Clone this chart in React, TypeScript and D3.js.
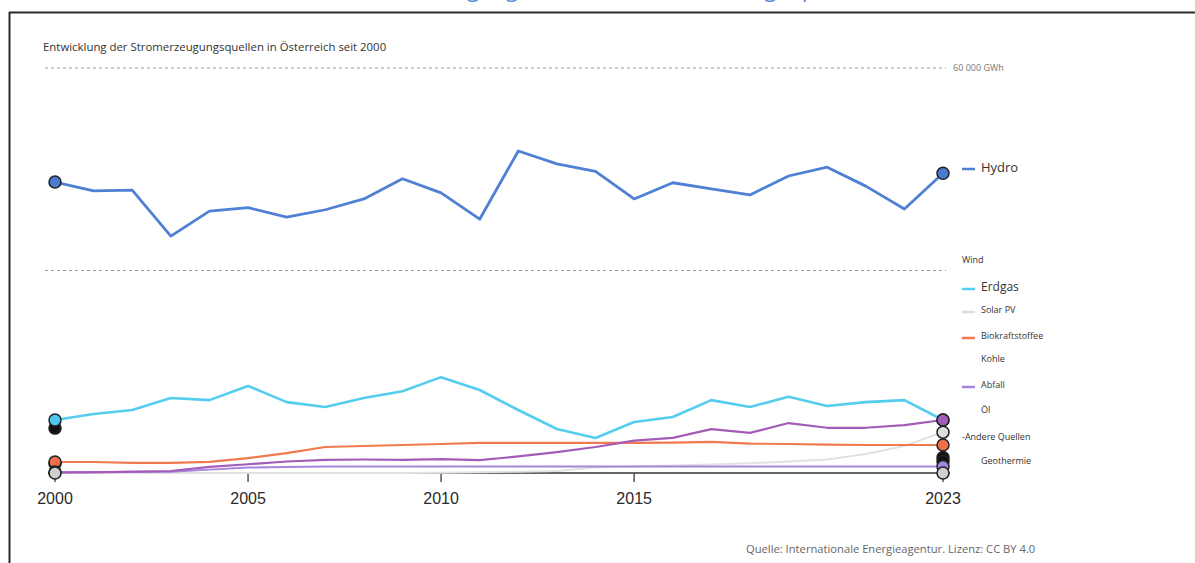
import React from "react";
import * as d3 from "d3";

const years = [2000, 2001, 2002, 2003, 2004, 2005, 2006, 2007, 2008, 2009, 2010, 2011, 2012, 2013, 2014, 2015, 2016, 2017, 2018, 2019, 2020, 2021, 2022, 2023];
const hydro = [43100, 41800, 41900, 35100, 38800, 39300, 37900, 39000, 40600, 43600, 41500, 37600, 47700, 45800, 44700, 40600, 43000, 42100, 41200, 44000, 45300, 42500, 39100, 44400];
const erdgas = [7850, 8740, 9330, 11100, 10800, 12900, 10500, 9780, 11100, 12100, 14200, 12300, 9330, 6520, 5190, 7560, 8300, 10800, 9780, 11300, 9930, 10500, 10800, 7850];
const wind = [70, 100, 200, 300, 900, 1300, 1700, 1950, 2000, 1950, 2050, 1900, 2450, 3100, 3850, 4800, 5200, 6500, 5950, 7400, 6700, 6700, 7100, 7850];
const bio = [1630, 1630, 1500, 1500, 1650, 2200, 2950, 3850, 4000, 4150, 4300, 4450, 4450, 4450, 4450, 4450, 4500, 4600, 4350, 4300, 4200, 4150, 4150, 4150];
const abfall = [150, 150, 150, 200, 500, 800, 900, 950, 950, 950, 950, 950, 950, 960, 960, 960, 960, 960, 960, 960, 960, 960, 960, 960];
const solar = [0, 0, 0, 0, 0, 0, 0, 0, 0, 10, 40, 100, 200, 300, 800, 950, 1100, 1250, 1450, 1700, 2000, 2800, 4000, 6050];
const kohleEnds = [6650, 1700];
const oelEnds = [1400, 2300];
const andereEnds = [0, 0];

const gridValues = [30000, 60000];
const tickYears = [2000, 2005, 2010, 2015, 2023];

const legendItems = [
  { label: "Hydro", color: "#4f80d3", size: 13, y: 167, swatch: true, x: 981 },
  { label: "Wind", color: null, size: 9, y: 260, swatch: false, x: 962 },
  { label: "Erdgas", color: "#55cdef", size: 12, y: 287, swatch: true, x: 981 },
  { label: "Solar PV", color: "#dcdcdc", size: 9, y: 310, swatch: true, x: 981 },
  { label: "Biokraftstoffee", color: "#ef7a50", size: 9, y: 336, swatch: true, x: 981 },
  { label: "Kohle", color: null, size: 9, y: 359, swatch: false, x: 981 },
  { label: "Abfall", color: "#a784dc", size: 9, y: 385, swatch: true, x: 981 },
  { label: "Öl", color: null, size: 9, y: 410, swatch: false, x: 981 },
  { label: "-Andere Quellen", color: null, size: 9, y: 437, swatch: false, x: 962 },
  { label: "Geothermie", color: null, size: 9, y: 461, swatch: false, x: 981 },
];

export default function App() {
  const W = 1195, H = 563;
  const x = d3.scaleLinear().domain([2000, 2023]).range([55, 943]);
  const y = d3.scaleLinear().domain([0, 60000]).range([473, 68]);
  const line = (vals: number[]) =>
    d3.line<number>().x((_, i) => x(years[i])).y((d) => y(d))(vals) || "";

  const series = [
    { vals: solar, color: "#e2e2e2", w: 2 },
    { vals: abfall, color: "#a784dc", w: 2 },
    { vals: bio, color: "#ef7a50", w: 2.2 },
    { vals: wind, color: "#a35cb8", w: 2.2 },
    { vals: erdgas, color: "#55cdef", w: 2.6 },
    { vals: hydro, color: "#4f80d3", w: 2.8 },
  ];

  const first = 0, last = years.length - 1;
  const markers: { yr: number; v: number; fill: string }[] = [
    { yr: years[first], v: kohleEnds[0], fill: "#111" },
    { yr: years[first], v: erdgas[first], fill: "#4fc8ee" },
    { yr: years[first], v: oelEnds[0], fill: "#111" },
    { yr: years[first], v: bio[first], fill: "#ef7048" },
    { yr: years[first], v: abfall[first], fill: "#a784dc" },
    { yr: years[first], v: andereEnds[0], fill: "#cfcfcf" },
    { yr: years[first], v: hydro[first], fill: "#4a7bd0" },
    { yr: years[last], v: hydro[last], fill: "#4a7bd0" },
    { yr: years[last], v: erdgas[last], fill: "#4fc8ee" },
    { yr: years[last], v: solar[last], fill: "#dedede" },
    { yr: years[last], v: wind[last], fill: "#a35cb8" },
    { yr: years[last], v: bio[last], fill: "#ef7048" },
    { yr: years[last], v: oelEnds[1], fill: "#111" },
    { yr: years[last], v: kohleEnds[1], fill: "#111" },
    { yr: years[last], v: abfall[last], fill: "#a784dc" },
    { yr: years[last], v: andereEnds[1], fill: "#cfcfcf" },
  ];

  const sans = "'Open Sans', 'Noto Sans', sans-serif";

  return (
    <svg width={W} height={H} style={{ position: "absolute", left: 0, top: 0, display: "block", background: "#fff" }}>
      <text x={725} y={-3} textAnchor="middle" fontFamily={sans} fontSize={22} fill="#5b8dd8">
        Stromerzeugung in Österreich nach Energiequelle (2000 bis 2023, in GWh)
      </text>
      <line x1={9} x2={W} y1={12.5} y2={12.5} stroke="#2a2a2a" strokeWidth={2} />
      <line x1={9.5} x2={9.5} y1={12} y2={H} stroke="#2a2a2a" strokeWidth={2} />

      <text x={43} y={51} fontFamily={sans} fontSize={11.4} fill="#333">
        Entwicklung der Stromerzeugungsquellen in Österreich seit 2000
      </text>

      {gridValues.map((g) => (
        <line key={g} x1={45} x2={946} y1={y(g)} y2={y(g)} stroke="#999" strokeWidth={1} strokeDasharray="3,3" />
      ))}
      <text x={953} y={y(60000) + 3} fontFamily={sans} fontSize={9} fill="#777">60 000 GWh</text>

      <line x1={48} x2={950} y1={y(0)} y2={y(0)} stroke="#666" strokeWidth={2} />
      {tickYears.map((t) => (
        <g key={t}>
          <line x1={x(t)} x2={x(t)} y1={y(0)} y2={y(0) + 9} stroke="#555" strokeWidth={1.5} />
          <text x={x(t)} y={504} textAnchor="middle" fontFamily="'Liberation Sans', Arial, sans-serif" fontSize={16} fill="#2a2a2a">
            {t}
          </text>
        </g>
      ))}

      {series.map((s, i) => (
        <path key={i} d={line(s.vals)} fill="none" stroke={s.color} strokeWidth={s.w} strokeLinejoin="round" />
      ))}

      {markers.map((m, i) => (
        <circle key={i} cx={x(m.yr)} cy={y(m.v)} r={6} fill={m.fill} stroke="#222" strokeWidth={1.5} />
      ))}

      {legendItems.map((l) => (
        <g key={l.label}>
          {l.swatch && <line x1={962} x2={975} y1={l.y + 2} y2={l.y + 2} stroke={l.color as string} strokeWidth={2.5} />}
          <text x={l.x} y={l.y} dy="0.35em" fontFamily={sans} fontSize={l.size} fill="#333">
            {l.label}
          </text>
        </g>
      ))}

      <text x={746} y={553} fontFamily={sans} fontSize={11.2} fill="#666">
        Quelle: Internationale Energieagentur. Lizenz: CC BY 4.0
      </text>
    </svg>
  );
}
